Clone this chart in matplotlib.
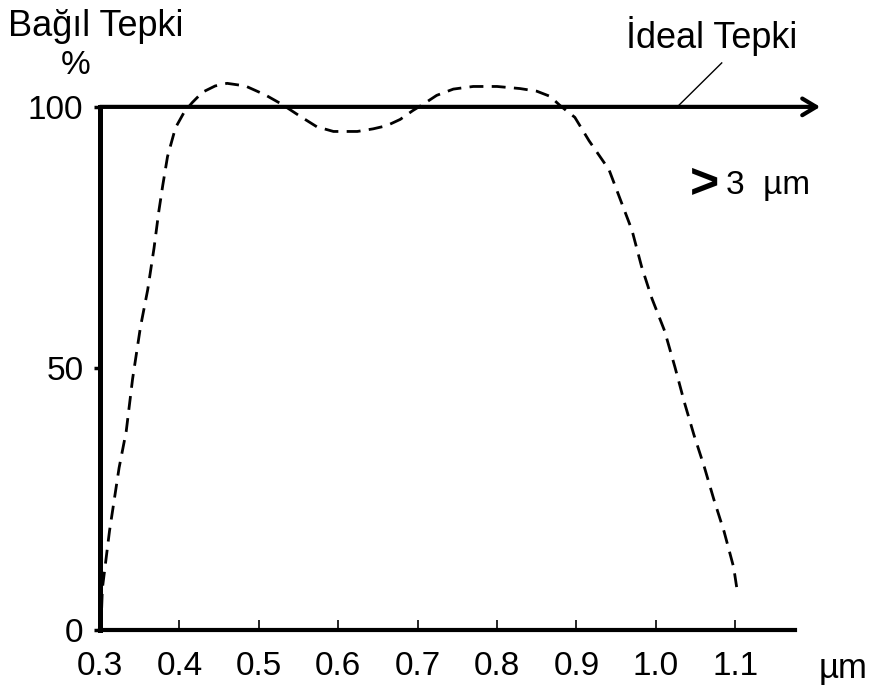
import numpy as np
import matplotlib
matplotlib.use("Agg")
import matplotlib.pyplot as plt

plt.rcParams['font.family'] = ['Liberation Sans', 'DejaVu Sans']

# dalga boyu (um) ve bagil tepki (%) - egriden okunan degerler
wavelength = [0.301, 0.303, 0.312, 0.324, 0.333, 0.341, 0.351, 0.360, 0.368,
              0.374, 0.379, 0.385, 0.395, 0.406, 0.416, 0.429, 0.445, 0.460,
              0.483, 0.508, 0.529, 0.552, 0.573, 0.594, 0.624, 0.644, 0.661,
              0.678, 0.694, 0.707, 0.724, 0.745, 0.770, 0.800, 0.829, 0.850,
              0.867, 0.879, 0.898, 0.916, 0.941, 0.958, 0.970, 0.982, 0.995,
              1.011, 1.024, 1.036, 1.048, 1.061, 1.073, 1.086, 1.098, 1.103]
response = [0, 8, 19, 31, 38, 48, 58, 65, 73,
            80, 85, 90.5, 96, 99, 100.8, 102.8, 104, 104.5,
            104, 102.3, 100.5, 98.2, 96.2, 95.3, 95.3, 95.8, 96.4,
            97.6, 99.3, 100.5, 102.2, 103.4, 103.9, 103.9, 103.5, 103.0,
            102.0, 100.3, 98, 93.5, 88, 81.2, 76.4, 69.5, 63.4,
            57.2, 50.3, 43.5, 37.3, 31.2, 25, 18.8, 12, 7]

ideal_level = 100
x_ticks = [0.3, 0.4, 0.5, 0.6, 0.7, 0.8, 0.9, 1.0, 1.1]
x_labels = ["0.3", "0.4", "0.5", "0.6", "0.7", "0.8", "0.9", "1.0", "1.1"]
y_ticks = [0, 50, 100]
y_labels = ["0", "50", "100"]

fig = plt.figure(figsize=(8.79, 6.95), dpi=100)
ax = fig.add_axes([0.1138, 0.0935, 0.822, 0.828])
ax.set_xlim(0.3, 1.21)
ax.set_ylim(0, 110)

# gercek tepki egrisi
ax.plot(wavelength, response, color='black', lw=2, dashes=(5, 3), zorder=3)

# ideal tepki (ok)
ax.annotate('', xy=(1.207, ideal_level), xytext=(0.3, ideal_level),
            arrowprops=dict(arrowstyle='->,head_length=1.0,head_width=0.6',
                            lw=3, color='black', shrinkA=0, shrinkB=0),
            annotation_clip=False)

ax.spines['top'].set_visible(False)
ax.spines['right'].set_visible(False)
ax.spines['left'].set_linewidth(3.6)
ax.spines['bottom'].set_linewidth(3)
ax.spines['left'].set_bounds(0, 100)
ax.spines['bottom'].set_bounds(0.3, 1.175)

ax.set_xticks(x_ticks)
ax.set_xticklabels(x_labels)
ax.set_yticks(y_ticks)
ax.set_yticklabels(y_labels)
ax.tick_params(axis='x', direction='in', length=7, width=1.2, pad=15, labelsize=24)
ax.tick_params(axis='y', direction='out', length=4, width=2.5, pad=8, labelsize=24)

# etiketler
fig.text(8 / 879, 1 - 26 / 695, "Bağıl Tepki", fontsize=26, va='center', ha='left')
fig.text(76 / 879, 1 - 66 / 695, "%", fontsize=24, va='center', ha='center')
ax.text(1.236, -7.3, "µm", fontsize=25, va='center', ha='center', clip_on=False)

ax.text(1.07, 113.5, "İdeal Tepki", fontsize=26, va='center', ha='center', clip_on=False)
ax.plot([1.083, 1.027], [108.4, 100], color='black', lw=1, clip_on=False)

ax.text(1.061, 85, ">", fontsize=36, fontweight='bold', va='center', ha='center')
ax.text(1.088, 85, "3  µm", fontsize=24, va='center', ha='left')

fig.savefig("out.png", dpi=100)
